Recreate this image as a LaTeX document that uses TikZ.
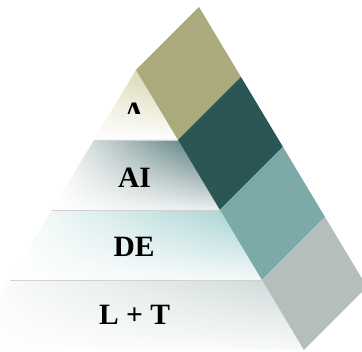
\documentclass[tikz,border=0pt]{standalone}
\usepackage{fontspec}
\setmainfont{Liberation Serif}
\usetikzlibrary{fadings}

\definecolor{capA}{HTML}{AAAA7C}
\definecolor{capB}{HTML}{2A5656}
\definecolor{capC}{HTML}{7CAAA9}
\definecolor{capD}{HTML}{B5BEBD}
\definecolor{tierA}{HTML}{D2D0A6}
\definecolor{tierB}{HTML}{3F6767}
\definecolor{tierC}{HTML}{9ECECE}
\definecolor{tierD}{HTML}{CCD7D7}

\tikzset{
  label/.style={font=\fontsize{29.5}{29.5}\selectfont\bfseries, inner sep=0pt, anchor=base},
  rim/.style={draw=gray!35, line width=0.6pt},
}

\begin{document}
\begin{tikzpicture}[x=1pt, y=-1pt]
\useasboundingbox (0,0) rectangle (362,352);
\clip (0,0) rectangle (362,352);

% corner points of the front face
\coordinate (apex) at (136,70);
\coordinate (l1) at (94,140);   \coordinate (r1) at (178,140);
\coordinate (l2) at (52,210);   \coordinate (r2) at (220,210);
\coordinate (l3) at (10,280);   \coordinate (r3) at (262,280);
\coordinate (l4) at (-32,350);  \coordinate (r4) at (304,350);

% front face tiers: colour toward the upper right, white toward left and bottom
\shade[top color=tierA, bottom color=white] (apex) -- (r1) -- (l1) -- cycle;
\fill[white, path fading=east, opacity=0.45] (apex) -- (r1) -- (l1) -- cycle;

\shade[left color=white, right color=tierB] (l1) -- (r1) -- (r2) -- (l2) -- cycle;
\fill[white, path fading=north, opacity=0.9] (l1) -- (r1) -- (r2) -- (l2) -- cycle;

\shade[left color=white, right color=tierC] (l2) -- (r2) -- (r3) -- (l3) -- cycle;
\fill[white, path fading=north, opacity=0.9] (l2) -- (r2) -- (r3) -- (l3) -- cycle;

\shade[left color=white, right color=tierD] (l3) -- (r3) -- (r4) -- (l4) -- cycle;
\fill[white, path fading=north, opacity=0.9] (l3) -- (r3) -- (r4) -- (l4) -- cycle;

% thin lines between tiers
\draw[rim] (l1) -- (r1);
\draw[rim] (l2) -- (r2);
\draw[rim] (l3) -- (r3);

% side strip of four coloured blocks
\coordinate (s0) at (199,7);
\coordinate (s1) at (241,77);
\coordinate (s2) at (283,147);
\coordinate (s3) at (325,217);
\coordinate (s4) at (367,287);
\fill[capA] (apex) -- (s0) -- (s1) -- (r1) -- cycle;
\fill[capB] (r1) -- (s1) -- (s2) -- (r2) -- cycle;
\fill[capC] (r2) -- (s2) -- (s3) -- (r3) -- cycle;
\fill[capD] (r3) -- (s3) -- (s4) -- (r4) -- cycle;

% tier labels
\begin{scope}
  \clip (0,0) rectangle (362,114);
  \node[label] (tA) at (134,123) {A};
\end{scope}
\node[label] (tB) at (134.5,188) {AI};
\node[label] (tC) at (134,256.5) {DE};
\node[label] (tD) at (134.5,325) {L + T};
\end{tikzpicture}
\end{document}
